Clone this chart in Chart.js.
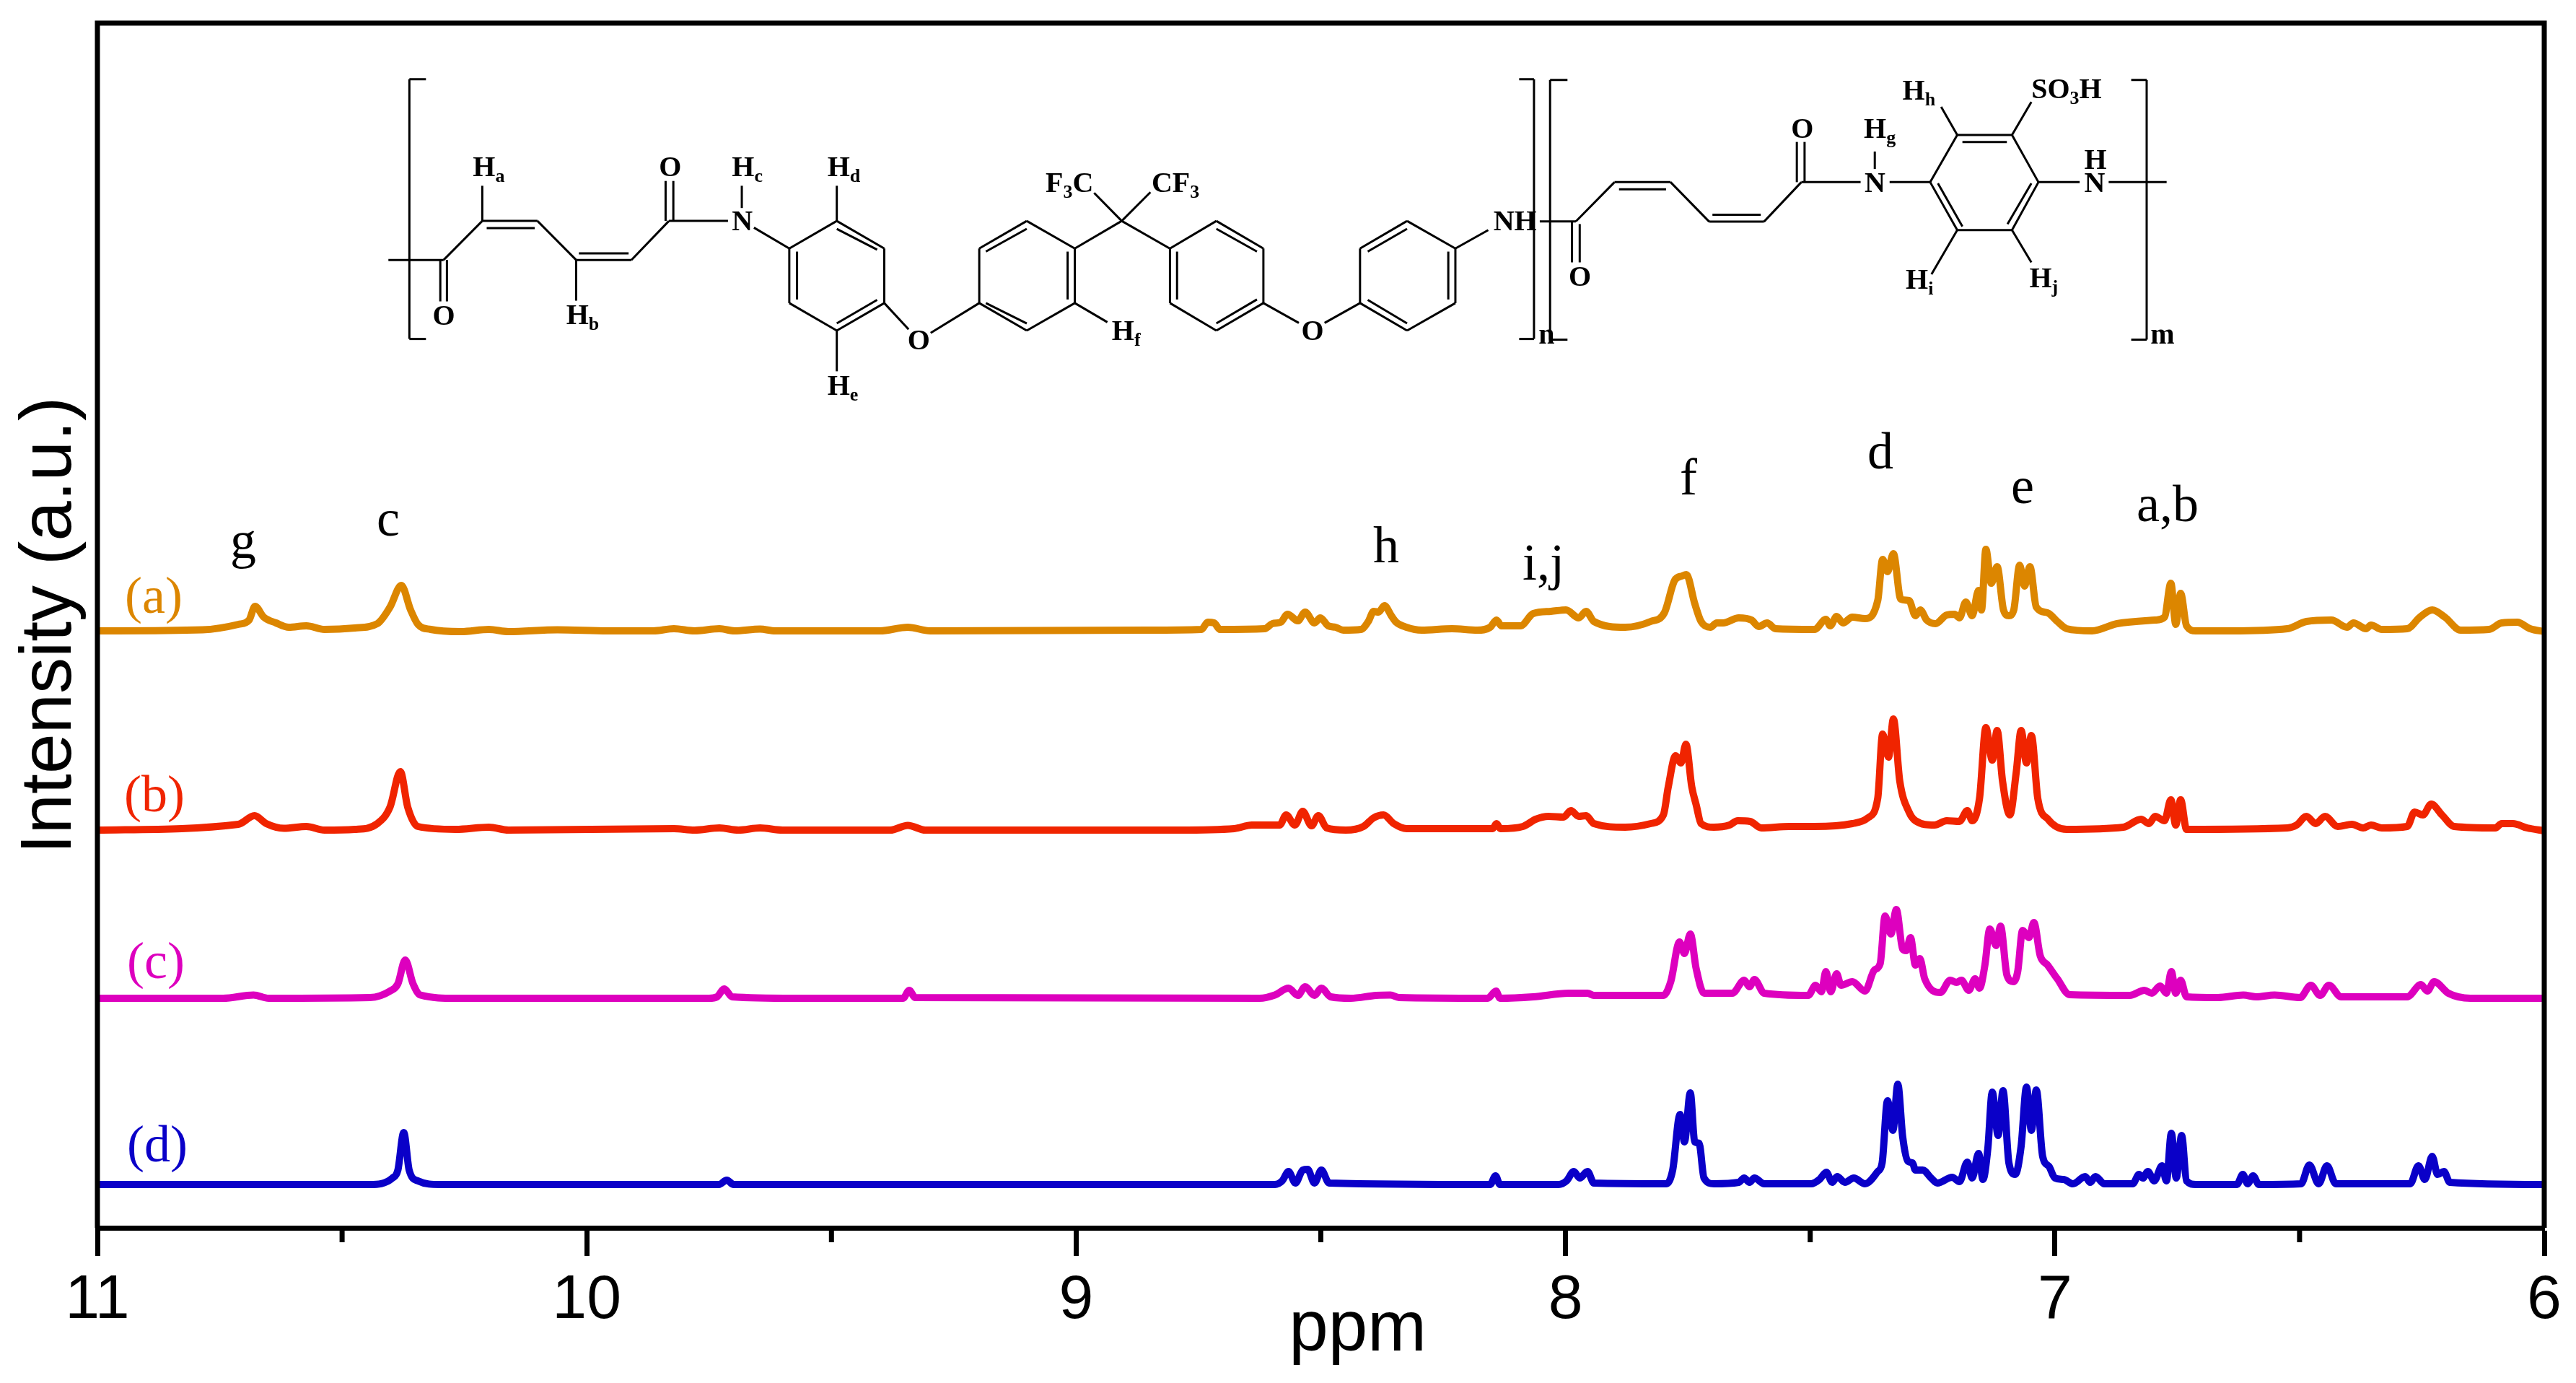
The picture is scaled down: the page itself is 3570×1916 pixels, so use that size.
<!DOCTYPE html>
<html>
<head>
<meta charset="utf-8">
<title>1H NMR spectra</title>
<style>
  html, body { margin: 0; padding: 0; background: #fff; }
  canvas { display: block; }
</style>
<script src="https://cdn.jsdelivr.net/npm/chart.js@4"></script>
</head>
<body>
<canvas id="nmrChart" width="3570" height="1916"></canvas>
<script>
// [ppm, intensity above the trace's own baseline]
const traceA = [[11,0],[10.785,1.5],[10.712,9],[10.69,15],[10.678,34],[10.66,19],[10.635,11],[10.609,5],[10.573,7],[10.536,2],[10.474,4],[10.428,10],[10.402,33],[10.379,63],[10.36,29],[10.345,9],[10.319,2],[10.257,-1],[10.2,2],[10.16,-1],[10.06,1.5],[9.957,0],[9.864,0],[9.822,3],[9.78,0],[9.729,3],[9.698,0],[9.646,2.5],[9.615,0],[9.401,0],[9.344,5],[9.298,0],[8.853,1],[8.744,2],[8.731,12],[8.718,11],[8.706,2],[8.615,3],[8.599,10],[8.582,12],[8.568,23],[8.547,14],[8.532,26],[8.513,11],[8.501,18],[8.485,7],[8.47,5],[8.454,1],[8.418,2],[8.403,13],[8.392,27],[8.382,26],[8.37,35],[8.356,21],[8.346,12],[8.325,5],[8.294,1],[8.232,3],[8.18,1],[8.154,5],[8.141,15],[8.131,7],[8.092,7],[8.066,24],[8.03,27],[7.999,29],[7.973,18],[7.958,27],[7.942,13],[7.878,5],[7.826,13],[7.798,25],[7.777,70],[7.762,76],[7.753,78],[7.736,38],[7.723,13],[7.704,5],[7.691,11],[7.678,11],[7.646,18],[7.62,15],[7.605,6],[7.588,11],[7.571,3],[7.491,2],[7.468,16],[7.459,7],[7.446,20],[7.433,11],[7.414,19],[7.388,17],[7.362,42],[7.352,99],[7.342,82],[7.33,107],[7.315,44],[7.298,42],[7.285,21],[7.275,29],[7.262,15],[7.244,10],[7.221,22],[7.205,23],[7.195,18],[7.182,40],[7.169,21],[7.156,56],[7.15,29],[7.141,113],[7.13,66],[7.118,89],[7.105,29],[7.094,21],[7.084,29],[7.072,91],[7.062,62],[7.051,89],[7.038,33],[7.015,25],[6.995,13],[6.976,3],[6.924,0],[6.873,10],[6.795,15],[6.776,19],[6.763,66],[6.753,9],[6.743,52],[6.731,7],[6.712,0],[6.64,0],[6.525,3],[6.486,13],[6.435,15],[6.403,5],[6.39,11],[6.364,3],[6.354,8],[6.332,2],[6.28,3],[6.254,19],[6.229,29],[6.203,19],[6.171,1],[6.113,2],[6.087,11],[6.055,12],[6.029,3],[6,-1]];
const traceB = [[11,0],[10.712,8],[10.679,20],[10.655,9],[10.619,2.5],[10.573,5],[10.536,0],[10.474,1],[10.428,9],[10.402,32],[10.381,81],[10.366,32],[10.345,5],[10.268,1],[10.2,4],[10.16,0],[9.822,2],[9.78,0],[9.729,3],[9.69,0],[9.646,3],[9.6,0],[9.38,0],[9.344,6.5],[9.308,0],[8.79,0],[8.677,2],[8.641,7],[8.584,7],[8.571,21],[8.553,7],[8.537,26],[8.519,6],[8.505,20],[8.488,3],[8.449,0],[8.413,5],[8.392,17],[8.372,21],[8.351,9],[8.325,2],[8.232,2],[8.149,2],[8.141,9],[8.133,2],[8.087,5],[8.061,15],[8.035,19],[8.004,18],[7.989,27],[7.973,19],[7.958,20],[7.942,9],[7.878,4],[7.826,9],[7.8,21],[7.79,60],[7.775,103],[7.764,93],[7.754,119],[7.742,60],[7.733,35],[7.723,9],[7.697,4],[7.665,7],[7.648,13],[7.623,12],[7.6,3],[7.543,5],[7.491,5],[7.414,9],[7.382,17],[7.362,44],[7.352,133],[7.34,101],[7.33,154],[7.317,68],[7.298,25],[7.285,13],[7.246,7],[7.221,13],[7.195,12],[7.179,27],[7.169,13],[7.154,44],[7.141,142],[7.128,97],[7.118,138],[7.107,68],[7.092,21],[7.079,80],[7.069,138],[7.058,93],[7.048,131],[7.035,44],[7.014,15],[6.976,1],[6.86,4],[6.824,15],[6.808,9],[6.795,19],[6.776,13],[6.763,42],[6.753,7],[6.743,42],[6.731,1],[6.525,3],[6.506,7],[6.486,19],[6.467,9],[6.448,19],[6.422,5],[6.393,8],[6.37,3],[6.354,7],[6.332,3],[6.28,5],[6.265,25],[6.248,21],[6.231,36],[6.209,21],[6.184,5],[6.1,3],[6.087,9],[6.064,9],[6.035,3],[6,-1]];
const traceC = [[11,0],[10.743,0],[10.681,4.5],[10.65,0],[10.443,1],[10.402,10],[10.386,20],[10.371,53],[10.355,20],[10.34,4.5],[10.268,0],[9.75,0],[9.734,2],[9.719,13],[9.703,2],[9.577,0],[9.354,0],[9.341,11],[9.329,1],[8.625,0],[8.594,4.5],[8.566,14],[8.547,4],[8.532,16],[8.513,4],[8.499,14],[8.48,2],[8.439,0],[8.387,4],[8.358,4.5],[8.34,1],[8.159,0],[8.142,10],[8.134,0],[8.066,2],[7.994,7],[7.955,7],[7.942,4],[7.8,4],[7.785,23],[7.767,78],[7.757,62],[7.745,89],[7.733,41],[7.717,7],[7.659,7],[7.635,25],[7.624,16],[7.614,26],[7.594,7],[7.504,4],[7.489,18],[7.477,9],[7.468,37],[7.458,9],[7.446,34],[7.437,18],[7.414,23],[7.388,10],[7.369,39],[7.357,48],[7.347,114],[7.335,89],[7.324,123],[7.311,68],[7.304,66],[7.295,84],[7.285,46],[7.276,55],[7.266,27],[7.234,8],[7.214,25],[7.201,22],[7.191,25],[7.176,11],[7.163,27],[7.154,14],[7.143,46],[7.133,96],[7.12,73],[7.111,100],[7.098,32],[7.085,23],[7.076,37],[7.066,94],[7.053,84],[7.043,105],[7.03,59],[7.015,46],[6.995,27],[6.97,5],[6.847,4],[6.817,11],[6.802,7],[6.785,17],[6.772,7],[6.762,37],[6.753,7],[6.743,25],[6.731,2],[6.667,1],[6.615,4.5],[6.589,2],[6.551,4.5],[6.499,1],[6.477,18],[6.458,4],[6.44,18],[6.415,2],[6.28,2],[6.252,19],[6.239,10],[6.225,23],[6.196,7],[6.151,0],[6,0]];
const traceD = [[11,0],[10.443,0],[10.397,9],[10.386,20],[10.374,72],[10.363,20],[10.345,5],[10.3,0],[9.73,0],[9.714,6],[9.7,0],[9.577,0],[8.594,0],[8.579,5],[8.566,18],[8.552,2],[8.537,20],[8.527,21],[8.513,2],[8.499,20],[8.483,2],[8.154,0],[8.143,12],[8.134,0],[8.014,0],[7.998,5],[7.983,18],[7.971,9],[7.955,18],[7.942,2],[7.794,1],[7.781,20],[7.766,97],[7.757,59],[7.745,127],[7.736,59],[7.727,57],[7.717,9],[7.697,1],[7.646,3],[7.635,9],[7.624,3],[7.614,9],[7.594,1],[7.498,1],[7.481,7],[7.467,17],[7.455,3],[7.445,11],[7.429,3],[7.411,9],[7.388,1],[7.362,18],[7.353,30],[7.342,116],[7.331,75],[7.321,139],[7.311,66],[7.3,32],[7.291,30],[7.285,20],[7.27,20],[7.253,9],[7.24,2],[7.21,10],[7.195,4],[7.179,31],[7.169,9],[7.156,43],[7.147,7],[7.137,50],[7.128,128],[7.116,68],[7.106,130],[7.094,30],[7.081,14],[7.069,53],[7.058,135],[7.048,75],[7.038,131],[7.025,39],[7.012,25],[7,9],[6.982,7],[6.963,1],[6.938,11],[6.928,3],[6.917,11],[6.899,1],[6.841,1],[6.828,14],[6.82,9],[6.81,18],[6.797,5],[6.781,26],[6.772,5],[6.762,71],[6.752,9],[6.741,68],[6.731,5],[6.712,0],[6.628,0],[6.616,14],[6.606,1],[6.595,12],[6.583,0],[6.497,1],[6.48,27],[6.461,1],[6.444,26],[6.426,1],[6.274,1],[6.257,26],[6.244,7],[6.229,39],[6.218,14],[6.205,18],[6.193,3],[6,0]];

const traces = [traceA, traceB, traceC, traceD];
const traceNames = ['(a)', '(b)', '(c)', '(d)'];
const traceOffsets = [827, 551, 318, 60];
const traceColors = ['#DC8600', '#F02400', '#DD00BE', '#0A00C8'];

const majorStep = 1;
const minorTicks = [10.5, 9.5, 8.5, 7.5, 6.5];
const peakLabels = ['g', 'c', 'h', 'i,j', 'f', 'd', 'e', 'a,b'];

const serif = '"Liberation Serif", "Times New Roman", serif';
const sans = '"Liberation Sans", Arial, sans-serif';

// spots on the canvas for the hand placed labels
const peakLabelSpots = [[337, 773], [538, 742], [1921, 779], [2139, 803], [2340, 685], [2606, 649], [2803, 697], [3004, 722]];
const traceLabelSpots = [[213, 849], [214, 1124], [216, 1355], [218, 1609]];

// the structure is measured in two pieces, each with its own origin and scale
const toCanvasL = (x, y) => [500 + x / 1.3067, 60 + y / 3.015];
const toCanvasR = (x, y) => [1650 + x / 1.12, 60 + y / 3.015];

const bondsL = [
  [118,150,88,150],[88,150,88,1235],[88,1235,118,1235],
  [50,905,150,905],[150,905,220,742],[220,742,320,742],[228,772,315,772],[320,742,390,905],
  [390,905,490,905],[395,877,485,877],[490,905,558,742],[558,742,665,742],
  [552,742,552,575],[566,742,566,575],[144,905,144,1078],[156,905,156,1078],
  [220,595,220,742],[390,905,390,1075],[690,595,690,688],[712,770,776,857],
  [862,742,948,857],[948,857,948,1085],[948,1085,862,1200],[862,1200,776,1085],[776,1085,776,857],[776,857,862,742],
  [862,775,935,862],[790,870,790,1070],[935,1072,862,1170],
  [862,595,862,742],[862,1200,862,1370],[948,1085,992,1195],[1032,1210,1120,1085],
  [1206,742,1293,857],[1293,857,1293,1085],[1293,1085,1206,1200],[1206,1200,1120,1085],[1120,1085,1120,857],[1120,857,1206,742],
  [1132,870,1206,775],[1280,870,1280,1070],[1132,1085,1206,1170],
  [1293,1085,1352,1165],[1293,857,1378,742],[1378,742,1328,625],[1378,742,1430,622],[1378,742,1465,857]
];
const bondsR = [
  [40,742,113,857],[113,857,113,1085],[113,1085,40,1200],[40,1200,-32,1085],[-32,1085,-32,857],[-32,857,40,742],
  [-21,870,-21,1070],[40,775,103,870],[103,1070,40,1170],
  [113,1085,168,1168],[208,1168,263,1085],
  [336,742,411,857],[411,857,411,1085],[411,1085,336,1200],[336,1200,263,1085],[263,1085,263,857],[263,857,336,742],
  [275,870,336,775],[400,870,400,1070],[275,1072,336,1170],[411,857,462,780],
  [510,150,533,150],[533,150,533,1235],[510,1235,533,1235],
  [585,153,558,153],[558,153,558,1238],[558,1238,585,1238],
  [542,744,598,744],[598,744,658,580],[658,580,745,580],[665,610,738,610],[745,580,805,745],
  [805,745,890,745],[810,716,885,716],[890,745,948,580],[948,580,1040,580],
  [941,580,941,412],[953,580,953,412],[592,744,592,915],[604,755,604,915],
  [1062,452,1062,525],[1085,580,1148,580],
  [1190,383,1275,383],[1275,383,1316,580],[1316,580,1275,780],[1275,780,1190,780],[1190,780,1148,580],[1148,580,1190,383],
  [1198,412,1267,412],[1160,585,1198,765],[1305,585,1268,755],
  [1165,265,1190,383],[1305,245,1275,383],[1190,780,1150,965],[1275,780,1305,915],
  [1316,580,1380,580],[1425,580,1515,580],
  [1460,153,1484,153],[1484,153,1484,1238],[1460,1238,1484,1238]
];
// left edge, baseline, pieces of text (a second item marks a subscript)
const atomsL = [
  [203,555,[['H'],['a',1]]],[540,555,[['O']]],[672,555,[['H'],['c',1]]],[845,555,[['H'],['d',1]]],
  [1240,622,[['F'],['3',1],['C']]],[1432,622,[['CF'],['3',1]]],
  [130,1175,[['O']]],[372,1172,[['H'],['b',1]]],[672,782,[['N']]],[990,1278,[['O']]],
  [1360,1240,[['H'],['f',1]]],[845,1468,[['H'],['e',1]]]
];
const atomsR = [
  [470,782,[['NH']]],[172,1240,[['O']]],[540,1255,[['n']]],[587,1012,[['O']]],[932,395,[['O']]],
  [1045,395,[['H'],['g',1]]],[1046,622,[['N']]],[1105,235,[['H'],['h',1]]],
  [1305,228,[['SO'],['3',1],['H']]],[1387,525,[['H']]],[1387,622,[['N']]],
  [1110,1025,[['H'],['i',1]]],[1302,1018,[['H'],['j',1]]],[1490,1255,[['m']]]
];

function drawAtoms(ctx, atoms, toCanvas) {
  ctx.textAlign = 'left';
  ctx.textBaseline = 'alphabetic';
  atoms.forEach(([x, y, parts]) => {
    let [px, py] = toCanvas(x, y);
    parts.forEach(([text, sub]) => {
      ctx.font = 'bold ' + (sub ? 26 : 40) + 'px ' + serif;
      ctx.fillText(text, px, sub ? py + 8 : py);
      px += ctx.measureText(text).width;
    });
  });
}

const structurePlugin = {
  id: 'structure',
  afterDraw(chart) {
    const ctx = chart.ctx;
    ctx.save();
    ctx.strokeStyle = '#000';
    ctx.fillStyle = '#000';
    ctx.lineWidth = 3;
    [[bondsL, toCanvasL], [bondsR, toCanvasR]].forEach(([bonds, toCanvas]) => {
      bonds.forEach(b => {
        ctx.beginPath();
        ctx.moveTo(...toCanvas(b[0], b[1]));
        ctx.lineTo(...toCanvas(b[2], b[3]));
        ctx.stroke();
      });
    });
    drawAtoms(ctx, atomsL, toCanvasL);
    drawAtoms(ctx, atomsR, toCanvasR);

    ctx.textAlign = 'center';
    ctx.font = '72px ' + serif;
    peakLabels.forEach((label, i) => {
      ctx.fillText(label, peakLabelSpots[i][0], peakLabelSpots[i][1]);
    });
    traceNames.forEach((name, i) => {
      ctx.fillStyle = traceColors[i];
      ctx.fillText(name, traceLabelSpots[i][0], traceLabelSpots[i][1]);
    });
    ctx.restore();
  }
};

// Frame and the short minor ticks (Chart.js has one tick length per axis)
const framePlugin = {
  id: 'frame',
  afterDatasetsDraw(chart) {
    const { ctx, chartArea: area, scales } = chart;
    ctx.save();
    ctx.strokeStyle = '#000';
    ctx.lineWidth = 7;
    ctx.beginPath();
    ctx.moveTo(area.left, area.bottom);
    ctx.lineTo(area.left, area.top);
    ctx.lineTo(area.right, area.top);
    ctx.lineTo(area.right, area.bottom);
    minorTicks.forEach(v => {
      const x = scales.x.getPixelForValue(v);
      ctx.moveTo(x, area.bottom);
      ctx.lineTo(x, area.bottom + 20);
    });
    ctx.stroke();
    ctx.restore();
  }
};

// ppm sits right of the axis centre in the original
const titleShiftPlugin = {
  id: 'titleShift',
  afterLayout(chart) {
    const scale = chart.scales.x;
    const drawTitle = scale.drawTitle;
    scale.drawTitle = function () {
      chart.ctx.save();
      chart.ctx.translate(51, 0);
      drawTitle.call(scale);
      chart.ctx.restore();
    };
  }
};

new Chart(document.getElementById('nmrChart'), {
  type: 'line',
  data: {
    datasets: traces.map((trace, i) => ({
      label: traceNames[i],
      data: trace.map(p => ({ x: p[0], y: p[1] + traceOffsets[i] })),
      borderColor: traceColors[i],
      borderWidth: 10,
      borderJoinStyle: 'round',
      cubicInterpolationMode: 'monotone',
      pointRadius: 0
    }))
  },
  options: {
    responsive: false,
    animation: false,
    devicePixelRatio: 1,
    layout: { padding: { top: 32, right: 44, left: 0, bottom: 0 } },
    plugins: { legend: { display: false }, tooltip: { enabled: false } },
    scales: {
      x: {
        type: 'linear',
        reverse: true,
        min: 6,
        max: 11,
        afterFit: s => { s.height = 215; },
        border: { display: true, width: 7, color: '#000' },
        grid: { drawOnChartArea: false, drawTicks: true, tickLength: 39, tickWidth: 7, tickColor: '#000' },
        ticks: {
          stepSize: majorStep,
          maxRotation: 0,
          padding: 19,
          color: '#000',
          font: { family: sans, size: 86, lineHeight: 1 }
        },
        title: {
          display: true,
          text: 'ppm',
          color: '#000',
          font: { family: sans, size: 98 },
          padding: { top: 0, bottom: 13 }
        }
      },
      y: {
        min: 0,
        max: 1669,
        afterFit: s => { s.width = 135; },
        border: { display: false },
        grid: { display: false },
        ticks: { display: false },
        title: {
          display: true,
          text: 'Intensity (a.u.)',
          color: '#000',
          font: { family: sans, size: 100 },
          padding: { top: 10, bottom: 0 }
        }
      }
    }
  },
  plugins: [titleShiftPlugin, framePlugin, structurePlugin]
});
</script>
</body>
</html>
